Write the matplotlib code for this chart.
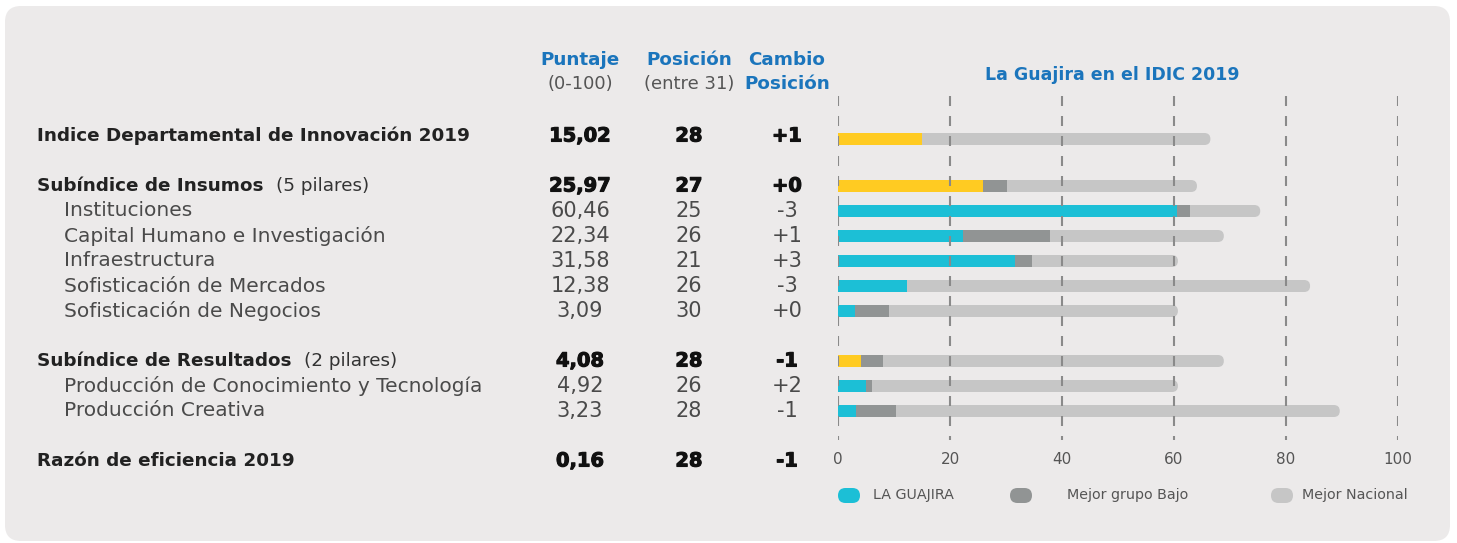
import matplotlib
matplotlib.use("Agg")
import matplotlib.pyplot as plt
import matplotlib.patheffects as pe
from matplotlib.patches import FancyBboxPatch

plt.rcParams['font.family'] = ['DejaVu Sans']
plt.rcParams['lines.scale_dashes'] = False

# datos IDIC 2019 - La Guajira
etiquetas = ['Indice Departamental de Innovación 2019',
             'Subíndice de Insumos',
             'Instituciones',
             'Capital Humano e Investigación',
             'Infraestructura',
             'Sofisticación de Mercados',
             'Sofisticación de Negocios',
             'Subíndice de Resultados',
             'Producción de Conocimiento y Tecnología',
             'Producción Creativa',
             'Razón de eficiencia 2019']
notas = ['', '(5 pilares)', '', '', '', '', '', '(2 pilares)', '', '', '']
es_indice = [True, True, False, False, False, False, False, True, False, False, True]
puntaje = [15.02, 25.97, 60.46, 22.34, 31.58, 12.38, 3.09, 4.08, 4.92, 3.23, 0.16]
posicion = [28, 27, 25, 26, 21, 26, 30, 28, 26, 28, 28]
cambio = ['+1', '+0', '-3', '+1', '+3', '-3', '+0', '-1', '+2', '-1', '-1']
mejor_grupo = [12.3, 30.1, 62.9, 37.9, 34.6, 9.0, 9.1, 8.1, 6.0, 10.3]
mejor_nacional = [66.5, 64.1, 75.4, 68.9, 60.7, 84.3, 60.7, 68.9, 60.7, 89.6]
ticks = [0, 20, 40, 60, 80, 100]

AZUL = '#1b75bc'
AMARILLO = '#ffcb22'
CIAN = '#1cbfd6'
GRIS_OSC = '#919494'
GRIS_CLARO = '#c6c6c6'
FONDO = '#eceaea'

W, H = 1457, 543
fig = plt.figure(figsize=(W / 100, H / 100), dpi=100)
fig.patch.set_facecolor('white')

# capa de fondo y textos en pixeles
bg = fig.add_axes([0, 0, 1, 1])
bg.set_xlim(0, W)
bg.set_ylim(H, 0)
bg.axis('off')
bg.add_patch(FancyBboxPatch((5, 6), 1445, 535, boxstyle='round,pad=0,rounding_size=16',
                            fc=FONDO, ec='none'))

slots = [0, 2, 3, 4, 5, 6, 7, 9, 10, 11, 13]
filas = [136 + 25 * s for s in slots]

# encabezados
col_x = [580, 689, 787]
enc = dict(color=AZUL, fontsize=13.2, fontweight='bold', ha='center', va='center')
sub = dict(color='#555555', fontsize=13, ha='center', va='center')
bg.text(col_x[0], 60, 'Puntaje', **enc)
bg.text(col_x[0], 84, '(0-100)', **sub)
bg.text(col_x[1], 60, 'Posición', **enc)
bg.text(col_x[1], 84, '(entre 31)', **sub)
bg.text(col_x[2], 60, 'Cambio', **enc)
bg.text(col_x[2], 84, 'Posición', **enc)
bg.text(1112, 75, 'La Guajira en el IDIC 2019', color=AZUL, fontsize=12.5, fontweight='bold',
        ha='center', va='center')

renderer = fig.canvas.get_renderer()
for i, y in enumerate(filas):
    if es_indice[i]:
        t = bg.text(37, y, etiquetas[i], color='#222222', fontsize=13.2, fontweight='bold',
                    va='center')
        if notas[i]:
            caja = t.get_window_extent(renderer)
            bg.text(caja.x1 + 12, y, notas[i], color='#333333', fontsize=13.2, va='center')
        estilo = dict(color='#111111', fontsize=14, fontweight='bold',
                      path_effects=[pe.withStroke(linewidth=0.8, foreground='#111111')])
    else:
        bg.text(64, y, etiquetas[i], color='#4a4a4a', fontsize=14.5, va='center')
        estilo = dict(color='#4a4a4a', fontsize=15)
    for cx, txt in zip(col_x, [f'{puntaje[i]:.2f}'.replace('.', ','), str(posicion[i]), cambio[i]]):
        bg.text(cx, y, txt, ha='center', va='center', **estilo)

# leyenda
ley = [(849, CIAN, 873, 'LA GUAJIRA'), (1021, GRIS_OSC, 1067, 'Mejor grupo Bajo'),
       (1282, GRIS_CLARO, 1302, 'Mejor Nacional')]
for cx, c, tx, t in ley:
    bg.add_patch(FancyBboxPatch((cx - 11, 488), 22, 15, boxstyle='round,pad=0,rounding_size=7.5',
                                fc=c, ec='none'))
    bg.text(tx, 495.5, t, color='#555555', fontsize=10.3, va='center')

# barras
x0, x1 = 838, 1398
ax = fig.add_axes([x0 / W, 0, (x1 - x0) / W, 1])
ax.set_xlim(0, 100)
ax.set_ylim(H, 0)
ax.axis('off')
alto = 12
escala = (x1 - x0) / 100.0
for i in range(len(mejor_nacional)):
    y = filas[i] + (3 if i == 0 else 0)
    ax.add_patch(FancyBboxPatch((0, y - alto / 2), mejor_nacional[i], alto,
                                boxstyle=f'round,pad=0,rounding_size={6 / escala}',
                                mutation_aspect=escala, fc=GRIS_CLARO, ec='none', zorder=1))
    ax.barh(y, mejor_grupo[i], height=alto, color=GRIS_OSC, zorder=2)
    ax.barh(y, puntaje[i], height=alto, color=AMARILLO if es_indice[i] else CIAN, zorder=3)

ax.vlines(ticks, 96, 440, colors='#8a8a8a', linewidth=1.5, linestyles=(0, (7.2, 7.2)), zorder=4)
for t in ticks:
    ax.text(t, 459, str(t), color='#555555', fontsize=11, ha='center', va='center')

fig.savefig('out.png', dpi=100, facecolor='white')
